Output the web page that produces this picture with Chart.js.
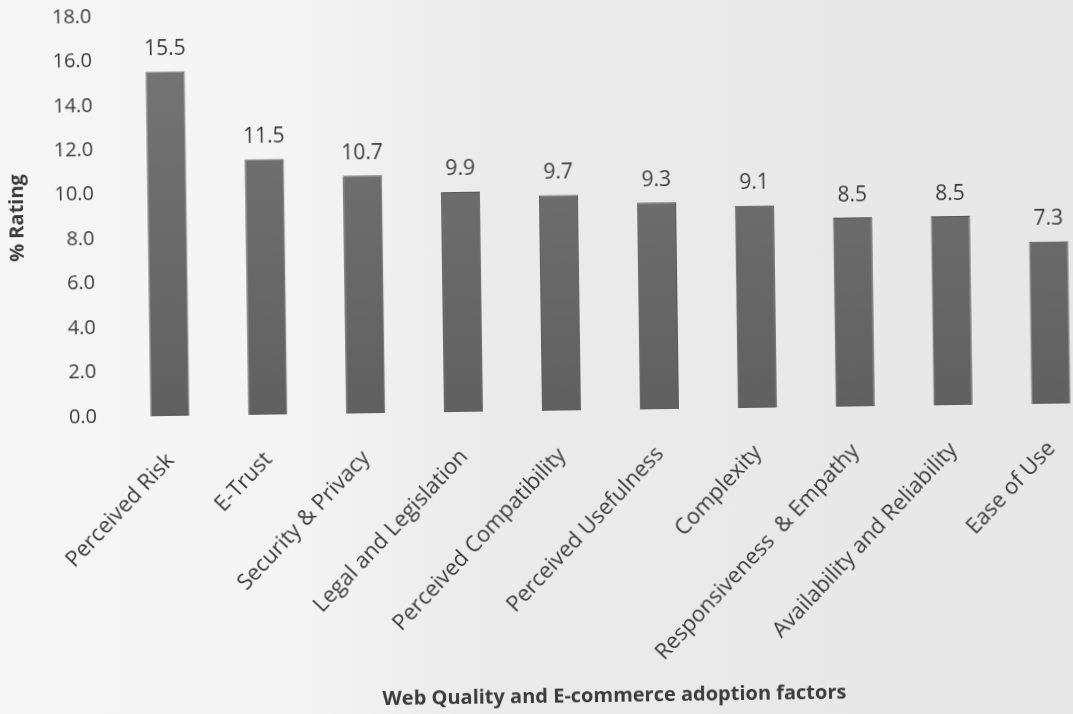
<!DOCTYPE html>
<html>
<head>
<meta charset="utf-8">
<script src="https://cdn.jsdelivr.net/npm/chart.js@4/dist/chart.umd.min.js"></script>
<style>
  html, body {
    margin: 0;
    width: 1073px;
    height: 714px;
    overflow: hidden;
    background: linear-gradient(90deg, #f6f6f6 0%, #f4f4f4 28%, #ebebeb 45%, #e7e7e7 100%);
  }
  #wrap {
    position: absolute;
    left: 0;
    top: -20px;
    width: 1102px;
    height: 734px;
    transform: rotate(-0.8deg);
    transform-origin: 170px 436px;
  }
</style>
</head>
<body>
<div id="wrap"><canvas id="ratingChart" width="1102" height="734"></canvas></div>
<script>
const factors = [
  'Perceived Risk', 'E-Trust', 'Security & Privacy', 'Legal and Legislation',
  'Perceived Compatibility', 'Perceived Usefulness', 'Complexity',
  'Responsiveness  & Empathy', 'Availability and Reliability', 'Ease of Use'
];
const ratings = [15.5, 11.5, 10.7, 9.9, 9.7, 9.3, 9.1, 8.5, 8.5, 7.3];
const yTicks = [0, 2, 4, 6, 8, 10, 12, 14, 16, 18];

const textColor = '#3b3b3b';
const fontFamily = "'Open Sans', sans-serif";

// value labels above each bar
const valueLabels = {
  id: 'valueLabels',
  afterDatasetsDraw(chart) {
    const ctx = chart.ctx;
    const meta = chart.getDatasetMeta(0);
    ctx.save();
    ctx.fillStyle = textColor;
    ctx.font = '21px ' + fontFamily;
    ctx.textAlign = 'center';
    ctx.textBaseline = 'bottom';
    meta.data.forEach((bar, i) => {
      ctx.fillText(ratings[i].toFixed(1), bar.x, bar.y - 12);
    });
    ctx.restore();
  }
};

function barFill(context) {
  const area = context.chart.chartArea;
  if (!area) return '#666';
  const g = context.chart.ctx.createLinearGradient(0, area.top, 0, area.bottom);
  g.addColorStop(0, '#777777');
  g.addColorStop(1, '#606060');
  return g;
}

new Chart(document.getElementById('ratingChart'), {
  type: 'bar',
  data: {
    labels: factors,
    datasets: [{
      data: ratings,
      backgroundColor: barFill,
      borderColor: '#585858',
      borderWidth: 1,
      barPercentage: 0.8,
      categoryPercentage: 0.5
    }]
  },
  options: {
    responsive: false,
    animation: false,
    layout: { padding: { top: 0, right: 0, bottom: 0, left: 0 } },
    plugins: { legend: { display: false }, tooltip: { enabled: false } },
    scales: {
      x: {
        grid: { display: false, drawTicks: false },
        border: { display: false },
        ticks: {
          color: textColor,
          font: { family: fontFamily, size: 22 },
          maxRotation: 46,
          minRotation: 46,
          padding: 32,
          autoSkip: false
        },
        title: {
          display: true,
          text: 'Web Quality and E-commerce adoption factors',
          color: textColor,
          padding: { top: 0, bottom: 0 },
          font: { family: fontFamily, size: 20, weight: 'bold' }
        },
        afterFit(scale) { scale.height = 298; }
      },
      y: {
        min: 0,
        max: 18,
        grid: { display: false, drawTicks: false },
        border: { display: false },
        afterBuildTicks(scale) { scale.ticks = yTicks.map(v => ({ value: v })); },
        ticks: {
          color: textColor,
          font: { family: fontFamily, size: 20 },
          padding: 24,
          callback: v => v.toFixed(1)
        },
        title: {
          display: true,
          text: '% Rating',
          color: textColor,
          padding: { top: 8, bottom: 0 },
          font: { family: fontFamily, size: 20, weight: 'bold' }
        },
        afterFit(scale) { scale.width = 121; }
      }
    }
  },
  plugins: [valueLabels]
});
</script>
</body>
</html>
